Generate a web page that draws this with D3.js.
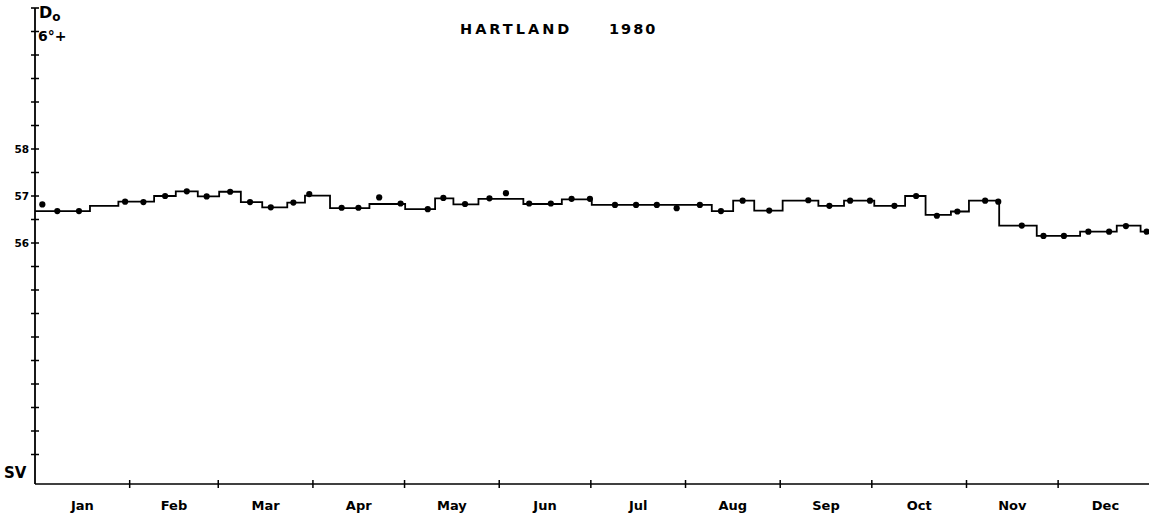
<!DOCTYPE html>
<html><head><meta charset="utf-8">
<script src="https://cdn.jsdelivr.net/npm/d3@7"></script>
<style>body{margin:0;background:#fff}svg{display:block}text{font-family:"DejaVu Sans",sans-serif;fill:#000}</style>
</head><body>
<script>
// Month labels and month-start day-of-year (1980, leap year)
const months = ["Jan","Feb","Mar","Apr","May","Jun","Jul","Aug","Sep","Oct","Nov","Dec"];
const monthStarts = [0,31,60,91,121,152,182,213,244,274,305,335,366];
// Step line: start day and level (D, degrees 6°+ minutes)
const stepDays = [0,18,27.3,39,46.1,53.3,60.3,67.4,74.4,82.6,88.4,96.6,109.5,121.2,131,137,145.2,159.9,172.5,182.3,221.6,228.6,235.5,244.8,256.5,264.9,274.8,284.9,291.6,299.9,305.8,315.7,328,342.2,354.2,362];
const stepVals = [56.68,56.79,56.88,57.0,57.1,56.99,57.09,56.87,56.76,56.86,57.01,56.74,56.83,56.72,56.95,56.82,56.94,56.83,56.93,56.81,56.68,56.90,56.69,56.90,56.79,56.90,56.79,57.0,56.60,56.67,56.90,56.37,56.15,56.24,56.37,56.24];
// Dots
const dotDays = [2.4,7.3,14.4,29.5,35.5,42.6,49.7,56.2,63.9,70.4,77.2,84.6,89.8,100.4,105.9,112.7,119.7,128.6,133.7,140.8,148.8,154.2,161.8,168.9,175.7,181.7,189.9,196.8,203.6,210.1,217.7,224.6,231.7,240.4,253.2,260.1,266.9,273.4,281.4,288.5,295.3,302.0,311.1,315.4,323.1,330.2,336.9,344.9,351.7,357.2,364.0];
const dotVals = [56.82,56.68,56.68,56.88,56.87,57.0,57.1,56.99,57.09,56.87,56.76,56.86,57.04,56.75,56.75,56.97,56.84,56.72,56.96,56.83,56.95,57.06,56.84,56.84,56.94,56.94,56.81,56.81,56.81,56.74,56.81,56.68,56.90,56.69,56.91,56.79,56.90,56.90,56.79,57.0,56.58,56.67,56.90,56.88,56.37,56.15,56.15,56.24,56.24,56.36,56.24];
const yTicks = d3.range(51.5, 61.01, 0.5);
const yLabels = [58,57,56];

const W = 1149, H = 524;
const svg = d3.select("body").append("svg").attr("width", W).attr("height", H);
const x = d3.scaleLinear().domain([0,366]).range([35, 1152.8]);
const y = d3.scaleLinear().domain([57,58]).range([196,149]);
const yBottom = 484;

// Y axis
svg.append("line").attr("x1",35).attr("x2",35).attr("y1",y(61)).attr("y2",yBottom).attr("stroke","#000").attr("stroke-width",1.8);
svg.append("line").attr("x1",31).attr("x2",39).attr("y1",y(61)).attr("y2",y(61)).attr("stroke","#000").attr("stroke-width",1.6);
svg.selectAll(".yt").data(yTicks.filter(v=>v<61)).join("line")
  .attr("x1",31).attr("x2",39).attr("y1",d=>y(d)).attr("y2",d=>y(d)).attr("stroke","#000").attr("stroke-width",1.5);
svg.selectAll(".yl").data(yLabels).join("text")
  .attr("x",29).attr("y",d=>y(d)+4).attr("text-anchor","end")
  .attr("font-size",10.5).attr("font-weight","bold").text(d=>d);

// X axis
svg.append("line").attr("x1",35).attr("x2",W).attr("y1",yBottom).attr("y2",yBottom).attr("stroke","#000").attr("stroke-width",1.6);
svg.selectAll(".xt").data(monthStarts.slice(1,12)).join("line")
  .attr("x1",d=>x(d)).attr("x2",d=>x(d)).attr("y1",yBottom-4).attr("y2",yBottom+4).attr("stroke","#000").attr("stroke-width",1.5);
svg.selectAll(".xl").data(months).join("text")
  .attr("x",(d,i)=>(x(monthStarts[i])+x(monthStarts[i+1]))/2).attr("y",510)
  .attr("text-anchor","middle").attr("font-size",13).attr("font-weight","bold").text(d=>d);

// Step line
const pts = stepDays.map((d,i)=>[d, stepVals[i]]);
pts.push([366, stepVals[stepVals.length-1]]);
svg.append("path").datum(pts)
  .attr("d", d3.line().x(d=>x(d[0])).y(d=>y(d[1])).curve(d3.curveStepAfter))
  .attr("fill","none").attr("stroke","#000").attr("stroke-width",1.8);

// Dots
svg.selectAll(".dot").data(dotDays.map((d,i)=>[d,dotVals[i]])).join("circle")
  .attr("cx",d=>x(d[0])).attr("cy",d=>y(d[1])).attr("r",3.1).attr("fill","#000");

// Labels
svg.append("text").attr("x",460).attr("y",34).attr("font-size",14.5).attr("font-weight","bold").attr("letter-spacing",3).text("HARTLAND");
svg.append("text").attr("x",609).attr("y",34).attr("font-size",14.5).attr("font-weight","bold").attr("letter-spacing",2).text("1980");
const dl = svg.append("text").attr("x",39).attr("y",18).attr("font-size",16).attr("font-weight","bold");
dl.append("tspan").text("D");
dl.append("tspan").attr("dy",3).attr("font-size",12).text("o");
svg.append("text").attr("x",38).attr("y",41).attr("font-size",14).attr("font-weight","bold").text("6°+");
svg.append("text").attr("x",4).attr("y",478).attr("font-size",15).attr("font-weight","bold").text("SV");
</script>
</body></html>
